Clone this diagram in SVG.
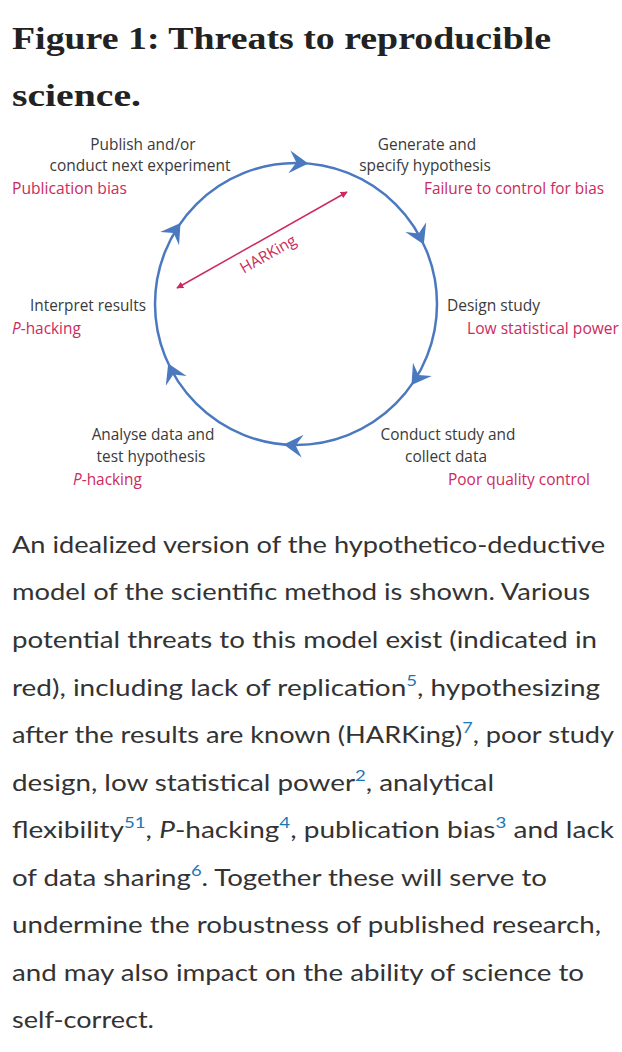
<svg xmlns="http://www.w3.org/2000/svg" width="622" height="1052" viewBox="0 0 622 1052">
<style>
.title{font-family:"Liberation Serif","DejaVu Serif",serif;font-weight:bold;font-size:31px;fill:#222}
.lbl{font-family:"Open Sans","Noto Sans",sans-serif;font-size:15.4px;fill:#3a3a3a}
.red{font-family:"Open Sans","Noto Sans",sans-serif;font-size:15.4px;fill:#cc2a5c}
.body{font-family:"Lato","Noto Sans",sans-serif;font-size:24px;fill:#333}
.sup{font-size:16px;fill:#1a78b4}
.cyc{fill:none;stroke:#4a79bf;stroke-width:2.5}
.ah{fill:#4a79bf}
</style>
<defs>
<path id="head" d="M0,0 L-19,-11.5 L-12,0 L-19,11.5 Z"/>
<marker id="rarr" viewBox="0 0 10 10" refX="9" refY="5" markerWidth="7" markerHeight="7" markerUnits="userSpaceOnUse" orient="auto-start-reverse">
<path d="M0,0 L10,5 L0,10 Z" fill="#cc2a5c"/>
</marker>
</defs>
<rect width="622" height="1052" fill="#fff"/>
<g id="title">
<text class="title" x="12" y="49" textLength="539" lengthAdjust="spacingAndGlyphs">Figure 1: Threats to reproducible</text>
<text class="title" x="12" y="106" textLength="129" lengthAdjust="spacingAndGlyphs">science.</text>
</g>
<g id="connectors">
<circle class="cyc" cx="296" cy="304" r="141"/>
<use href="#head" class="ah" transform="translate(308.3,163.5) rotate(5)"/>
<use href="#head" class="ah" transform="translate(423.8,244.4) rotate(65)"/>
<use href="#head" class="ah" transform="translate(411.5,384.9) rotate(125)"/>
<use href="#head" class="ah" transform="translate(283.7,444.5) rotate(185)"/>
<use href="#head" class="ah" transform="translate(168.2,363.6) rotate(245)"/>
<use href="#head" class="ah" transform="translate(180.5,223.1) rotate(305)"/>
<line x1="177" y1="288" x2="347" y2="192" stroke="#cc2a5c" stroke-width="1.5" marker-start="url(#rarr)" marker-end="url(#rarr)"/>
<text class="red" transform="translate(268,254) rotate(-29.45)" text-anchor="middle" dy="0.35em">HARKing</text>
</g>
<g id="node-publish">
<text class="lbl" x="143" y="150" text-anchor="middle">Publish and/or</text>
<text class="lbl" x="140" y="171" text-anchor="middle" textLength="181" lengthAdjust="spacingAndGlyphs">conduct next experiment</text>
<text class="red" x="12" y="194" textLength="115" lengthAdjust="spacingAndGlyphs">Publication bias</text>
</g>
<g id="node-generate">
<text class="lbl" x="427" y="150" text-anchor="middle">Generate and</text>
<text class="lbl" x="425" y="171" text-anchor="middle">specify hypothesis</text>
<text class="red" x="424" y="194" textLength="180" lengthAdjust="spacingAndGlyphs">Failure to control for bias</text>
</g>
<g id="node-interpret">
<text class="lbl" x="30" y="311" textLength="116" lengthAdjust="spacingAndGlyphs">Interpret results</text>
<text class="red" x="12" y="334"><tspan font-style="italic">P</tspan>-hacking</text>
</g>
<g id="node-design">
<text class="lbl" x="447" y="311" textLength="93" lengthAdjust="spacingAndGlyphs">Design study</text>
<text class="red" x="467" y="334" textLength="152" lengthAdjust="spacingAndGlyphs">Low statistical power</text>
</g>
<g id="node-analyse">
<text class="lbl" x="153" y="440" text-anchor="middle">Analyse data and</text>
<text class="lbl" x="151" y="462" text-anchor="middle">test hypothesis</text>
<text class="red" x="73" y="485"><tspan font-style="italic">P</tspan>-hacking</text>
</g>
<g id="node-conduct">
<text class="lbl" x="448" y="440" text-anchor="middle">Conduct study and</text>
<text class="lbl" x="446" y="462" text-anchor="middle">collect data</text>
<text class="red" x="448" y="485" textLength="142" lengthAdjust="spacingAndGlyphs">Poor quality control</text>
</g>
<g id="caption">
<text class="body" x="12" y="553" textLength="593" lengthAdjust="spacingAndGlyphs">An idealized version of the hypothetico-deductive</text>
<text class="body" x="12" y="600" textLength="578" lengthAdjust="spacingAndGlyphs">model of the scientific method is shown. Various</text>
<text class="body" x="12" y="648" textLength="585" lengthAdjust="spacingAndGlyphs">potential threats to this model exist (indicated in</text>
<text class="body" x="12" y="696" textLength="588" lengthAdjust="spacingAndGlyphs">red), including lack of replication<tspan class="sup" dy="-10">5</tspan><tspan dy="10">, hypothesizing</tspan></text>
<text class="body" x="12" y="743" textLength="602" lengthAdjust="spacingAndGlyphs">after the results are known (HARKing)<tspan class="sup" dy="-10">7</tspan><tspan dy="10">, poor study</tspan></text>
<text class="body" x="12" y="791" textLength="482" lengthAdjust="spacingAndGlyphs">design, low statistical power<tspan class="sup" dy="-10">2</tspan><tspan dy="10">, analytical</tspan></text>
<text class="body" x="12" y="838" textLength="602" lengthAdjust="spacingAndGlyphs">flexibility<tspan class="sup" dy="-10">51</tspan><tspan dy="10">, </tspan><tspan font-style="italic">P</tspan>-hacking<tspan class="sup" dy="-10">4</tspan><tspan dy="10">, publication bias</tspan><tspan class="sup" dy="-10">3</tspan><tspan dy="10"> and lack</tspan></text>
<text class="body" x="12" y="886" textLength="535" lengthAdjust="spacingAndGlyphs">of data sharing<tspan class="sup" dy="-10">6</tspan><tspan dy="10">. Together these will serve to</tspan></text>
<text class="body" x="12" y="933" textLength="589" lengthAdjust="spacingAndGlyphs">undermine the robustness of published research,</text>
<text class="body" x="12" y="981" textLength="572" lengthAdjust="spacingAndGlyphs">and may also impact on the ability of science to</text>
<text class="body" x="12" y="1028" textLength="142" lengthAdjust="spacingAndGlyphs">self-correct.</text>
</g>
</svg>
